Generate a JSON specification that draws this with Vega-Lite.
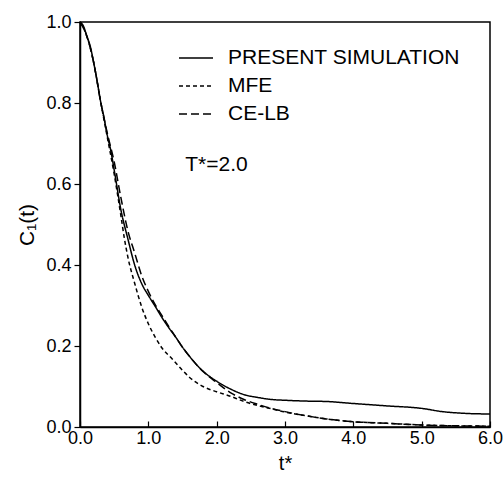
{
  "$schema": "https://vega.github.io/schema/vega-lite/v6.json",
  "width": 410,
  "height": 405,
  "autosize": "none",
  "padding": {"left": 80, "top": 22, "right": 13, "bottom": 50},
  "background": "white",
  "config": {
    "font": "Liberation Sans",
    "view": {"stroke": "black", "strokeWidth": 1.5},
    "axis": {"domainColor": "black", "domainWidth": 1.5, "tickColor": "black", "tickWidth": 1.2, "grid": false, "labelFlush": false, "labelColor": "black", "labelFont": "Liberation Sans", "labelFontSize": 18, "titleFont": "Liberation Sans", "titleFontWeight": "normal", "titleColor": "black"}
  },
  "datasets": {
    "curves": [
      {"t": 0.0, "c": 1.0, "s": "PRESENT SIMULATION"},
      {"t": 0.05, "c": 0.99, "s": "PRESENT SIMULATION"},
      {"t": 0.1, "c": 0.965, "s": "PRESENT SIMULATION"},
      {"t": 0.15, "c": 0.94, "s": "PRESENT SIMULATION"},
      {"t": 0.2, "c": 0.9, "s": "PRESENT SIMULATION"},
      {"t": 0.25, "c": 0.855, "s": "PRESENT SIMULATION"},
      {"t": 0.3, "c": 0.805, "s": "PRESENT SIMULATION"},
      {"t": 0.35, "c": 0.765, "s": "PRESENT SIMULATION"},
      {"t": 0.4, "c": 0.72, "s": "PRESENT SIMULATION"},
      {"t": 0.45, "c": 0.683, "s": "PRESENT SIMULATION"},
      {"t": 0.5, "c": 0.635, "s": "PRESENT SIMULATION"},
      {"t": 0.6, "c": 0.535, "s": "PRESENT SIMULATION"},
      {"t": 0.7, "c": 0.465, "s": "PRESENT SIMULATION"},
      {"t": 0.8, "c": 0.4, "s": "PRESENT SIMULATION"},
      {"t": 0.9, "c": 0.355, "s": "PRESENT SIMULATION"},
      {"t": 1.0, "c": 0.325, "s": "PRESENT SIMULATION"},
      {"t": 1.1, "c": 0.298, "s": "PRESENT SIMULATION"},
      {"t": 1.2, "c": 0.27, "s": "PRESENT SIMULATION"},
      {"t": 1.3, "c": 0.245, "s": "PRESENT SIMULATION"},
      {"t": 1.4, "c": 0.222, "s": "PRESENT SIMULATION"},
      {"t": 1.5, "c": 0.197, "s": "PRESENT SIMULATION"},
      {"t": 1.6, "c": 0.175, "s": "PRESENT SIMULATION"},
      {"t": 1.8, "c": 0.138, "s": "PRESENT SIMULATION"},
      {"t": 2.0, "c": 0.113, "s": "PRESENT SIMULATION"},
      {"t": 2.2, "c": 0.094, "s": "PRESENT SIMULATION"},
      {"t": 2.4, "c": 0.08, "s": "PRESENT SIMULATION"},
      {"t": 2.6, "c": 0.073, "s": "PRESENT SIMULATION"},
      {"t": 2.8, "c": 0.068, "s": "PRESENT SIMULATION"},
      {"t": 3.0, "c": 0.066, "s": "PRESENT SIMULATION"},
      {"t": 3.3, "c": 0.064, "s": "PRESENT SIMULATION"},
      {"t": 3.6, "c": 0.063, "s": "PRESENT SIMULATION"},
      {"t": 4.0, "c": 0.058, "s": "PRESENT SIMULATION"},
      {"t": 4.5, "c": 0.052, "s": "PRESENT SIMULATION"},
      {"t": 5.0, "c": 0.046, "s": "PRESENT SIMULATION"},
      {"t": 5.3, "c": 0.038, "s": "PRESENT SIMULATION"},
      {"t": 5.6, "c": 0.034, "s": "PRESENT SIMULATION"},
      {"t": 6.0, "c": 0.032, "s": "PRESENT SIMULATION"},
      {"t": 0.0, "c": 1.0, "s": "MFE"},
      {"t": 0.1, "c": 0.965, "s": "MFE"},
      {"t": 0.2, "c": 0.9, "s": "MFE"},
      {"t": 0.3, "c": 0.805, "s": "MFE"},
      {"t": 0.4, "c": 0.715, "s": "MFE"},
      {"t": 0.5, "c": 0.625, "s": "MFE"},
      {"t": 0.6, "c": 0.52, "s": "MFE"},
      {"t": 0.65, "c": 0.465, "s": "MFE"},
      {"t": 0.7, "c": 0.42, "s": "MFE"},
      {"t": 0.8, "c": 0.355, "s": "MFE"},
      {"t": 0.9, "c": 0.298, "s": "MFE"},
      {"t": 1.0, "c": 0.255, "s": "MFE"},
      {"t": 1.1, "c": 0.222, "s": "MFE"},
      {"t": 1.2, "c": 0.195, "s": "MFE"},
      {"t": 1.35, "c": 0.168, "s": "MFE"},
      {"t": 1.5, "c": 0.14, "s": "MFE"},
      {"t": 1.6, "c": 0.123, "s": "MFE"},
      {"t": 1.8, "c": 0.1, "s": "MFE"},
      {"t": 2.0, "c": 0.087, "s": "MFE"},
      {"t": 2.2, "c": 0.076, "s": "MFE"},
      {"t": 2.4, "c": 0.063, "s": "MFE"},
      {"t": 2.6, "c": 0.053, "s": "MFE"},
      {"t": 2.8, "c": 0.045, "s": "MFE"},
      {"t": 3.0, "c": 0.037, "s": "MFE"},
      {"t": 3.3, "c": 0.028, "s": "MFE"},
      {"t": 3.6, "c": 0.02, "s": "MFE"},
      {"t": 4.0, "c": 0.013, "s": "MFE"},
      {"t": 4.5, "c": 0.009, "s": "MFE"},
      {"t": 5.0, "c": 0.005, "s": "MFE"},
      {"t": 5.5, "c": 0.003, "s": "MFE"},
      {"t": 6.0, "c": 0.002, "s": "MFE"},
      {"t": 0.0, "c": 1.0, "s": "CE-LB"},
      {"t": 0.1, "c": 0.965, "s": "CE-LB"},
      {"t": 0.2, "c": 0.9, "s": "CE-LB"},
      {"t": 0.3, "c": 0.805, "s": "CE-LB"},
      {"t": 0.4, "c": 0.725, "s": "CE-LB"},
      {"t": 0.5, "c": 0.655, "s": "CE-LB"},
      {"t": 0.6, "c": 0.565, "s": "CE-LB"},
      {"t": 0.7, "c": 0.485, "s": "CE-LB"},
      {"t": 0.8, "c": 0.43, "s": "CE-LB"},
      {"t": 0.9, "c": 0.375, "s": "CE-LB"},
      {"t": 1.0, "c": 0.335, "s": "CE-LB"},
      {"t": 1.1, "c": 0.302, "s": "CE-LB"},
      {"t": 1.2, "c": 0.275, "s": "CE-LB"},
      {"t": 1.3, "c": 0.248, "s": "CE-LB"},
      {"t": 1.4, "c": 0.222, "s": "CE-LB"},
      {"t": 1.5, "c": 0.197, "s": "CE-LB"},
      {"t": 1.6, "c": 0.175, "s": "CE-LB"},
      {"t": 1.8, "c": 0.137, "s": "CE-LB"},
      {"t": 2.0, "c": 0.11, "s": "CE-LB"},
      {"t": 2.2, "c": 0.085, "s": "CE-LB"},
      {"t": 2.4, "c": 0.068, "s": "CE-LB"},
      {"t": 2.6, "c": 0.056, "s": "CE-LB"},
      {"t": 2.8, "c": 0.046, "s": "CE-LB"},
      {"t": 3.0, "c": 0.038, "s": "CE-LB"},
      {"t": 3.3, "c": 0.028, "s": "CE-LB"},
      {"t": 3.6, "c": 0.02, "s": "CE-LB"},
      {"t": 4.0, "c": 0.013, "s": "CE-LB"},
      {"t": 4.5, "c": 0.009, "s": "CE-LB"},
      {"t": 5.0, "c": 0.005, "s": "CE-LB"},
      {"t": 5.5, "c": 0.003, "s": "CE-LB"},
      {"t": 6.0, "c": 0.002, "s": "CE-LB"}
    ],
    "notes": [
      {"t": 1.54, "c": 0.647, "label": "T*=2.0"}
    ]
  },
  "layer": [
    {
      "data": {"name": "curves"},
      "mark": {"type": "line", "color": "black", "strokeWidth": 1.5, "interpolate": "monotone"},
      "encoding": {
        "x": {"field": "t", "type": "quantitative", "scale": {"domain": [0, 6], "nice": false},
          "axis": {"values": [0, 1, 2, 3, 4, 5, 6], "format": ".1f", "tickSize": -6, "labelPadding": 8, "title": "t*", "titleFontSize": 20, "titlePadding": 6}},
        "y": {"field": "c", "type": "quantitative", "scale": {"domain": [0, 1], "nice": false},
          "axis": {"values": [0, 0.2, 0.4, 0.6, 0.8, 1.0], "format": ".1f", "tickSize": 6, "labelPadding": 3, "title": "C₁(t)", "titleFontSize": 21, "titlePadding": 8}},
        "detail": {"field": "s"},
        "strokeDash": {"field": "s", "type": "nominal",
          "scale": {"domain": ["PRESENT SIMULATION", "MFE", "CE-LB"], "range": [[1, 0], [4, 3], [8, 4]]},
          "legend": {"title": null, "orient": "none", "legendX": 98, "legendY": 18, "symbolType": "stroke", "symbolSize": 1156, "symbolStrokeWidth": 1.5, "symbolStrokeColor": "black", "labelFontSize": 21, "labelLimit": 0, "labelColor": "black", "labelFont": "Liberation Sans", "labelOffset": 14, "rowPadding": -4, "padding": 0}}
      }
    },
    {
      "data": {"name": "notes"},
      "mark": {"type": "text", "align": "left", "baseline": "middle", "fontSize": 21, "font": "Liberation Sans", "color": "black"},
      "encoding": {
        "x": {"field": "t", "type": "quantitative"},
        "y": {"field": "c", "type": "quantitative"},
        "text": {"field": "label"}
      }
    }
  ]
}
